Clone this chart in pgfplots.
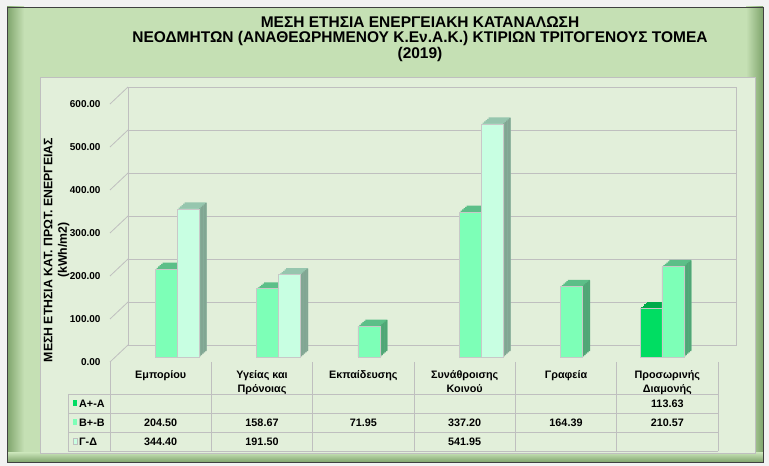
\documentclass[border=0pt]{standalone}
\usepackage{pgfplots}
\pgfplotsset{compat=1.18}
\usepackage{fontspec}
\setmainfont{Liberation Sans}
\definecolor{pagebg}{HTML}{F2F2F2}
\definecolor{framegreen}{HTML}{C5E0B4}
\definecolor{framedark}{HTML}{7FA46C}
\definecolor{panel}{HTML}{E2EFDA}
\definecolor{gridc}{HTML}{BFBFBF}
\definecolor{barline}{HTML}{C8C8C8}
\definecolor{Afront}{HTML}{00DD62}
\definecolor{Atop}{HTML}{00AA4A}
\definecolor{Aside}{HTML}{009944}
\definecolor{Bfront}{HTML}{7DFFB7}
\definecolor{Btop}{HTML}{5CBF88}
\definecolor{Bside}{HTML}{50A676}
\definecolor{Cfront}{HTML}{C8FFE2}
\definecolor{Ctop}{HTML}{96C6AE}
\definecolor{Cside}{HTML}{82A693}
\pgfplotstableread{
x y
5 113.63
}\seriesA
\pgfplotstableread{
x y
0 204.50
1 158.67
2 71.95
3 337.20
4 164.39
5 210.57
}\seriesB
\pgfplotstableread{
x y
0 344.40
1 191.50
3 541.95
}\seriesC
% depth faces of the bars: #1 table, #2 bar shift (pt), #3 top colour, #4 side colour
\newcommand\depthfaces[4]{%
  \pgfplotsinvokeforeach{1,...,5}{%
    \addplot[ybar, bar width=22pt, bar shift=#2pt, fill=#3, draw=none,
      xshift={5.5pt+1.5pt*##1}, yshift={5pt+1.3pt*##1}] table[x=x,y=y] {#1};
  }%
  \pgfplotsinvokeforeach{1,...,5}{%
    \addplot[ybar, bar width=1.6pt, bar shift={#2pt+11pt+1.5pt*##1-0.75pt}, fill=#4, draw=none,
      xshift=5.5pt, yshift={5pt+1.3pt*##1-0.65pt}] table[x=x,y=y] {#1};
  }%
}
\begin{document}
\begin{tikzpicture}[x=1pt,y=1pt]
% page and frame
\fill[pagebg] (0pt,0pt) rectangle (769pt,466pt);
\fill[framegreen] (7pt,4pt) rectangle (763pt,459pt);
\shade[left color=framedark, right color=framegreen] (7pt,4pt) rectangle (24pt,459pt);
\shade[left color=framegreen, right color=framedark] (746pt,4pt) rectangle (763pt,459pt);
\shade[top color=framegreen, bottom color=framedark] (7pt,4pt) rectangle (763pt,13pt);
\draw[black!75, line width=0.8pt] (7pt,4pt) rectangle (763pt,459pt);
\filldraw[fill=panel, draw=gridc, line width=0.8pt] (40pt,13pt) rectangle (755pt,389pt);
% title
\node[font=\bfseries\fontsize{15.5}{17}\selectfont] at (420pt,444pt) {ΜΕΣΗ ΕΤΗΣΙΑ ΕΝΕΡΓΕΙΑΚΗ ΚΑΤΑΝΑΛΩΣΗ};
\node[font=\bfseries\fontsize{15.5}{17}\selectfont] at (420pt,428pt) {ΝΕΟΔΜΗΤΩΝ (ΑΝΑΘΕΩΡΗΜΕΝΟΥ Κ.Εν.Α.Κ.) ΚΤΙΡΙΩΝ ΤΡΙΤΟΓΕΝΟΥΣ ΤΟΜΕΑ};
\node[font=\bfseries\fontsize{15.5}{17}\selectfont] at (420pt,412pt) {(2019)};
% y title
\node[rotate=90, align=center, font=\bfseries\fontsize{12.3}{14.5}\selectfont] at (56.5pt,216pt) {ΜΕΣΗ ΕΤΗΣΙΑ ΚΑΤ. ΠΡΩΤ. ΕΝΕΡΓΕΙΑΣ\\(kWh/m2)};
% back wall
\begin{axis}[at={(128pt,121pt)}, anchor=south west, scale only axis,
  width=608pt, height=258pt, xmin=-0.5, xmax=5.5, ymin=0, ymax=600,
  xtick=\empty, ytick={0,100,...,600}, yticklabels={},
  ymajorgrids, grid style={gridc, line width=0.8pt},
  axis line style={gridc, line width=0.8pt}, major tick length=0pt]
\addplot[draw=none] coordinates {(0,0)};
\end{axis}
% front plane with bars
\begin{axis}[at={(110pt,104pt)}, anchor=south west, scale only axis,
  width=608pt, height=258pt, xmin=-0.5, xmax=5.5, ymin=0, ymax=600,
  xtick=\empty, ytick={0,100,...,600},
  yticklabel style={font=\bfseries\fontsize{10}{12}\selectfont, xshift=-6pt,
    /pgf/number format/.cd, fixed, fixed zerofill, precision=2, assume math mode=true},
  axis line style={draw=none}, major tick length=0pt, clip=false]
\pgfplotsinvokeforeach{0,100,...,600}{
  \draw[gridc, line width=0.8pt] (axis cs:-0.5,#1) -- ++(18pt,17pt);
}
\depthfaces{\seriesA}{-22}{Atop}{Aside}
\depthfaces{\seriesB}{0}{Btop}{Bside}
\depthfaces{\seriesC}{22}{Ctop}{Cside}
% front faces
\addplot[ybar, bar width=22pt, bar shift=-22pt, fill=Afront, draw=barline, line width=0.6pt, xshift=5.5pt, yshift=5pt] table[x=x,y=y] {\seriesA};
\addplot[ybar, bar width=22pt, bar shift=0pt, fill=Bfront, draw=barline, line width=0.6pt, xshift=5.5pt, yshift=5pt] table[x=x,y=y] {\seriesB};
\addplot[ybar, bar width=22pt, bar shift=22pt, fill=Cfront, draw=barline, line width=0.6pt, xshift=5.5pt, yshift=5pt] table[x=x,y=y] {\seriesC};
\end{axis}
% data table
\begin{scope}[gridc, line width=0.8pt]
\foreach \k in {0,...,6} {\draw ({110pt+101.333pt*\k},104pt) -- ({110pt+101.333pt*\k},15pt);}
\draw (68pt,72pt) -- (68pt,15pt);
\foreach \yy in {72,53,34,15} {\draw (68pt,\yy pt) -- (718pt,\yy pt);}
\end{scope}
\begin{scope}[font=\bfseries\fontsize{10.8}{14}\selectfont]
\node[anchor=north, align=center] at (160.7pt,99pt) {Εμπορίου};
\node[anchor=north, align=center] at (262.0pt,99pt) {Υγείας και\\Πρόνοιας};
\node[anchor=north, align=center] at (363.3pt,99pt) {Εκπαίδευσης};
\node[anchor=north, align=center] at (464.7pt,99pt) {Συνάθροισης\\Κοινού};
\node[anchor=north, align=center] at (566.0pt,99pt) {Γραφεία};
\node[anchor=north, align=center] at (667.3pt,99pt) {Προσωρινής\\Διαμονής};
% row labels
\fill[Afront] (72.7pt,60pt) rectangle (77.3pt,65.6pt);
\fill[Bfront] (72.7pt,41pt) rectangle (77.3pt,46.6pt);
\filldraw[fill=Cfront, draw=gridc, line width=0.3pt] (72.7pt,22pt) rectangle (77.3pt,27.6pt);
\node[anchor=west, inner sep=0pt] at (79pt,62.5pt) {Α+-Α};
\node[anchor=west, inner sep=0pt] at (79pt,43.5pt) {Β+-Β};
\node[anchor=west, inner sep=0pt] at (79pt,24.5pt) {Γ-Δ};
% values
\node at (667.3pt,62.5pt) {113.63};
\node at (160.7pt,43.5pt) {204.50};
\node at (262.0pt,43.5pt) {158.67};
\node at (363.3pt,43.5pt) {71.95};
\node at (464.7pt,43.5pt) {337.20};
\node at (566.0pt,43.5pt) {164.39};
\node at (667.3pt,43.5pt) {210.57};
\node at (160.7pt,24.5pt) {344.40};
\node at (262.0pt,24.5pt) {191.50};
\node at (464.7pt,24.5pt) {541.95};
\end{scope}
\end{tikzpicture}
\end{document}
